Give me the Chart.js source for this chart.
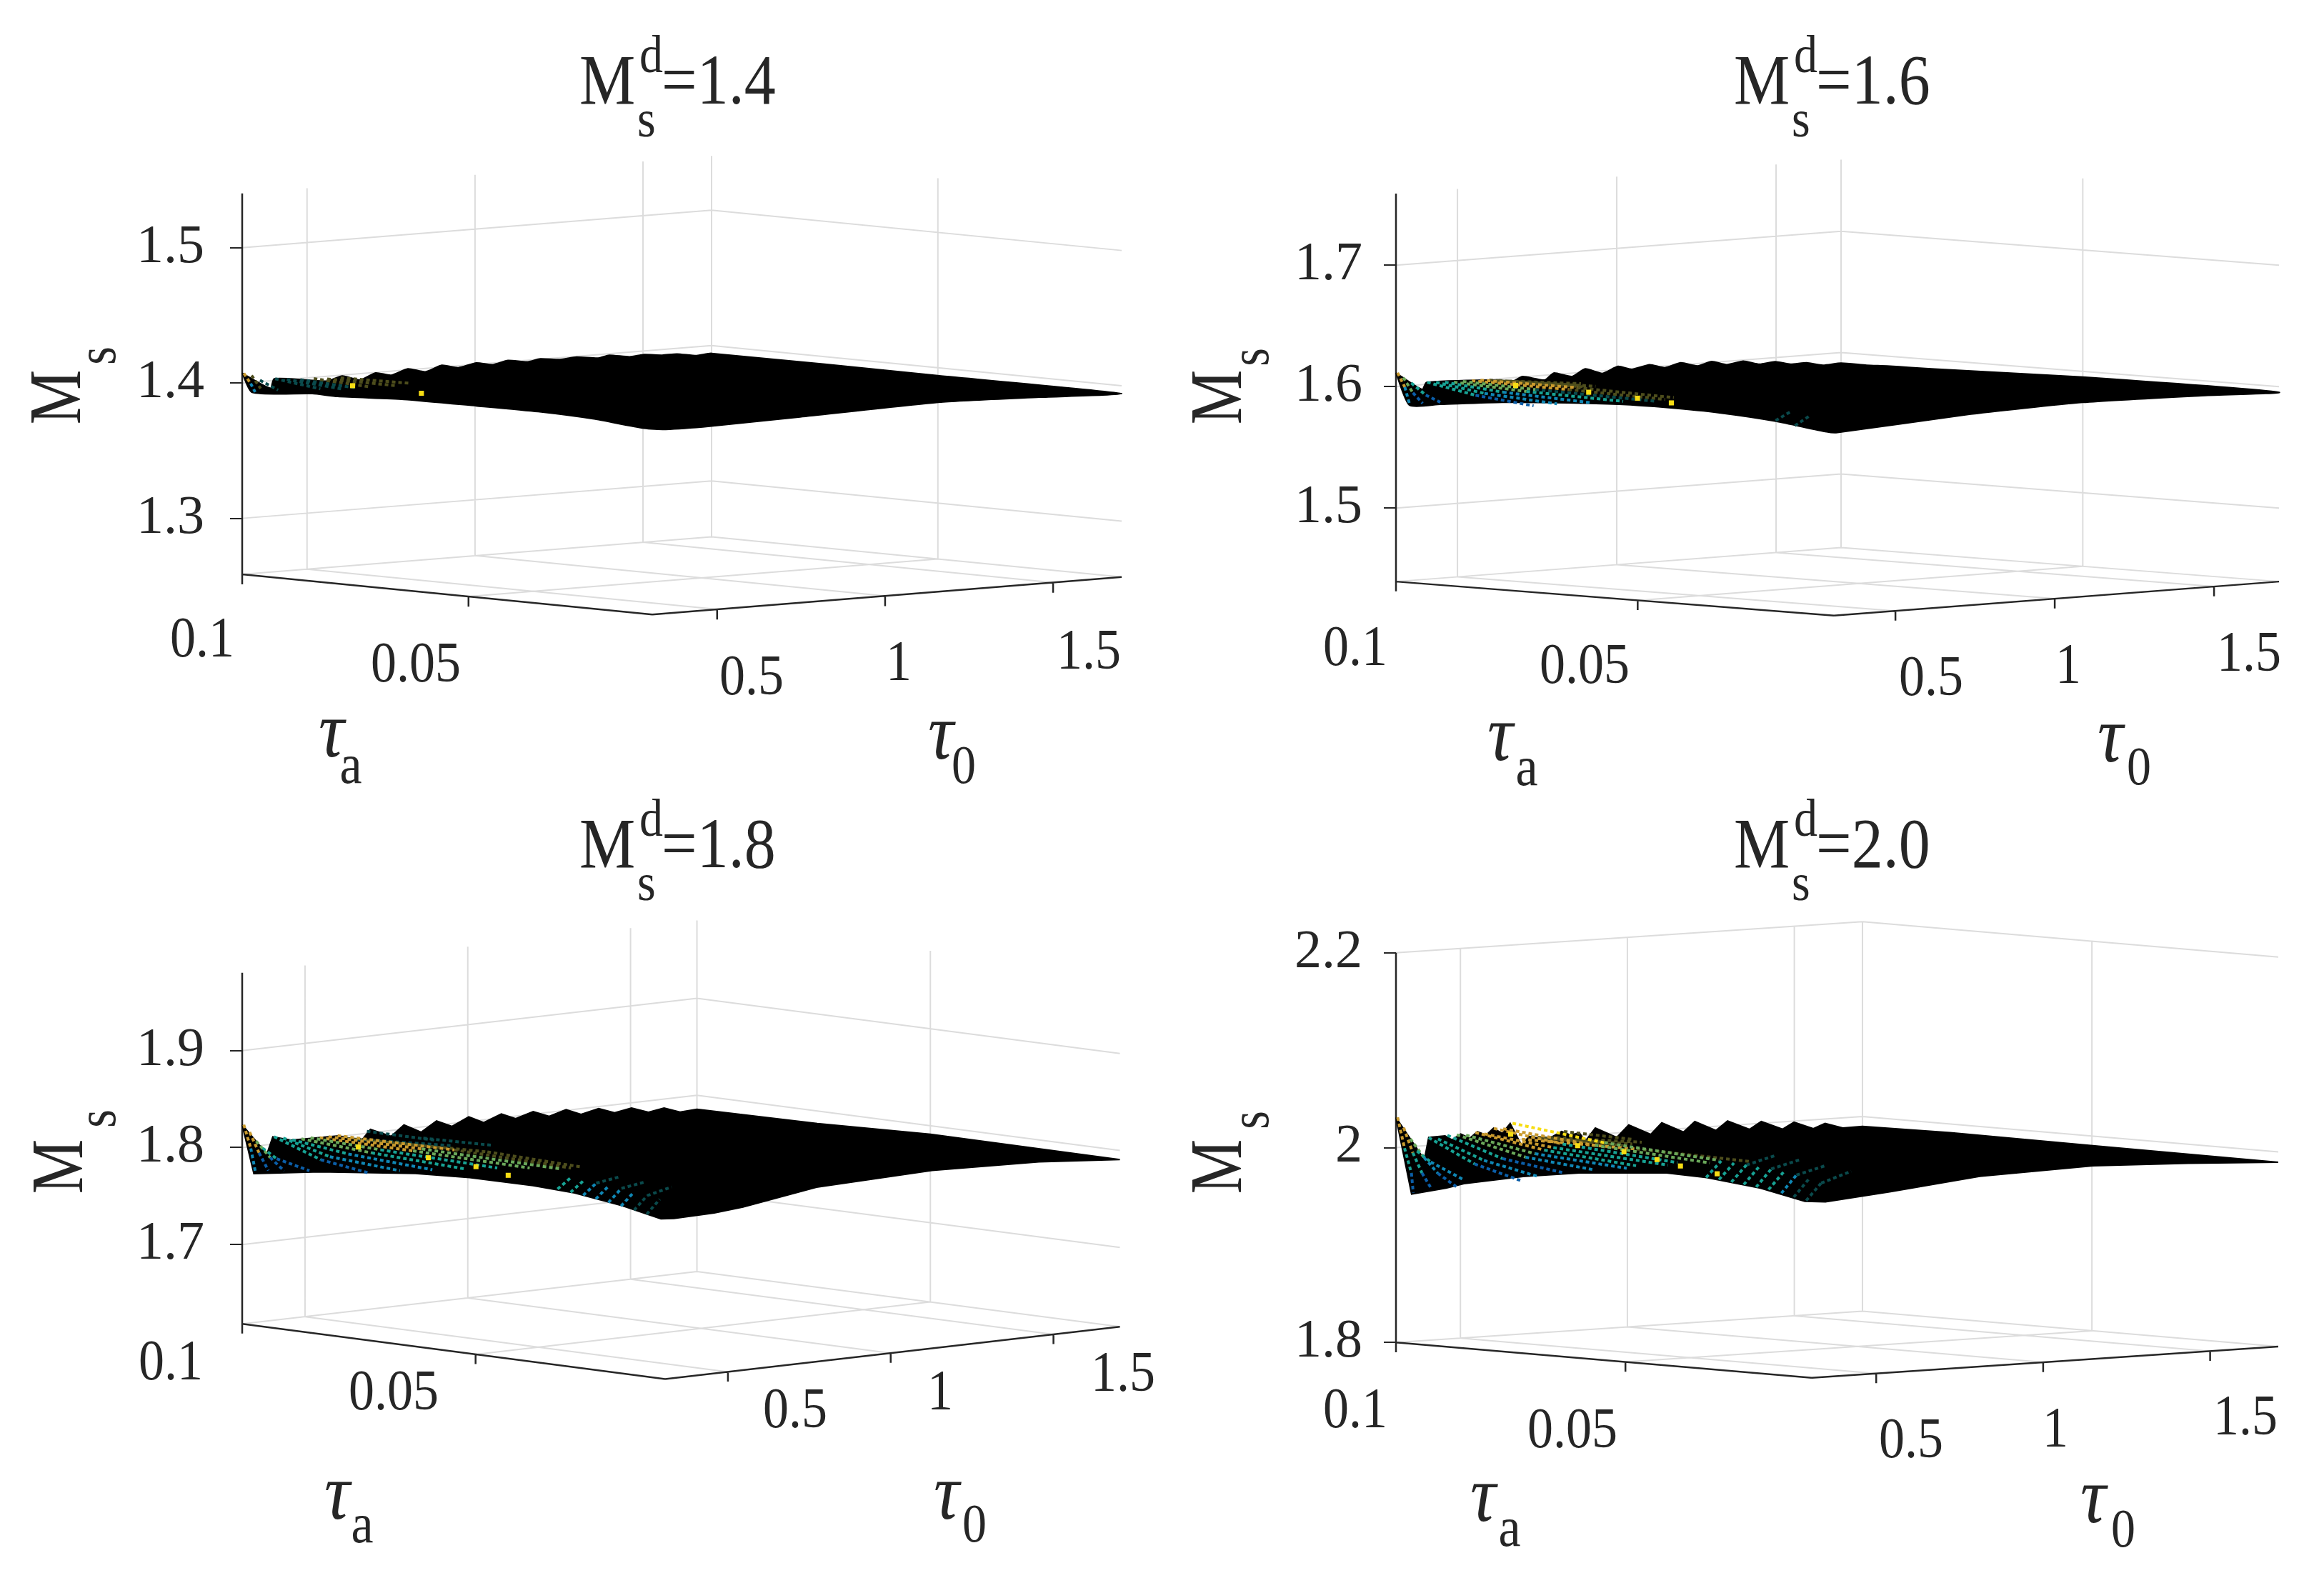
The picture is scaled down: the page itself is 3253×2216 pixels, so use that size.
<!DOCTYPE html>
<html><head><meta charset="utf-8">
<script src="https://cdn.jsdelivr.net/npm/chart.js@4/dist/chart.umd.js"></script>
<style>html,body{margin:0;padding:0;background:#fff;width:3253px;height:2216px;overflow:hidden}canvas{position:absolute;display:block}</style>
</head><body>
<script>
// axis ranges of the 3-D box
const taHi=0.1, taLo=0.0094, t0Lo=0.307, t0Hi=1.704;
const tauATicks=[0.1,0.05], tau0Ticks=[0.5,1,1.5];
const palette=['#0b5ea8','#0f87b5','#17a294','#6aa85a','#c99a2e','#f7dd14','#0a4a4c','#4d4d1c'];

// surface rim: [tau0,Ms] along tau_a=0.1
const top14=[[.307,1.4073],[.391,1.3945],[.402,1.4012],[.5,1.3984],[.56,1.3964],[.605,1.3993],[.657,1.3953],[.704,1.3996],[.75,1.397],[.8,1.4007],[.852,1.3975],[.901,1.4013],[.95,1.3986],[1.004,1.401],[1.053,1.3988],[1.098,1.401],[1.155,1.3988],[1.194,1.4003],[1.253,1.3986],[1.302,1.3995],[1.367,1.3974],[1.399,1.3989],[1.46,1.3965],[1.503,1.3973],[1.557,1.3958],[1.601,1.3958],[1.66,1.3934],[1.704,1.3942]];
const top16=[[.307,1.6113],[.389,1.596],[.403,1.6016],[.607,1.5994],[.674,1.5971],[.704,1.6004],[.774,1.5961],[.802,1.6013],[.859,1.5973],[.901,1.6027],[.955,1.5979],[1.004,1.6027],[1.047,1.5994],[1.103,1.6021],[1.151,1.5987],[1.201,1.6017],[1.253,1.5981],[1.298,1.6008],[1.345,1.5973],[1.397,1.5992],[1.448,1.5956],[1.497,1.5967],[1.545,1.5937],[1.596,1.5938],[1.647,1.5908],[1.704,1.5914]];
const top18=[[.307,1.8234],[.383,1.7905],[.401,1.8075],[.457,1.802],[.603,1.8007],[.672,1.7927],[.701,1.8037],[.765,1.794],[.804,1.8042],[.857,1.7947],[.904,1.8045],[.951,1.797],[1.003,1.8049],[1.049,1.7971],[1.103,1.804],[1.147,1.7974],[1.201,1.8026],[1.25,1.7958],[1.302,1.8007],[1.348,1.7941],[1.402,1.798],[1.451,1.7918],[1.503,1.7947],[1.555,1.7882],[1.603,1.7907],[1.652,1.7847],[1.704,1.7856]];
const top20=[[.307,2.031],[.392,1.9857],[.405,2.0082],[.454,2.0088],[.475,2.0041],[.501,2.0096],[.528,2.0046],[.551,2.0109],[.577,2.0067],[.599,2.0134],[.625,2.0073],[.649,2.0171],[.684,1.9932],[.705,2.0025],[.758,1.9977],[.803,2.0052],[.83,2.0009],[.856,2.0027],[.874,1.9937],[.904,2.0065],[.968,1.9953],[1.004,2.0073],[1.07,1.9961],[1.103,2.0073],[1.168,1.9963],[1.202,2.0064],[1.265,1.9957],[1.3,2.0047],[1.366,1.9946],[1.401,2.0018],[1.465,1.9924],[1.499,1.9989],[1.557,1.9908],[1.592,1.9955],[1.645,1.9895],[1.704,1.9898]];
// rim along tau0=max: [tau_a,Ms]
const back14=[[.05,1.3942],[.0094,1.3942]];
const back16=[[.0947,1.5913],[.0905,1.592],[.0855,1.5922],[.0772,1.5928],[.05,1.5953],[.0094,1.5953]];
const back18=[[.0742,1.787],[.05,1.7913],[.0094,1.7905]];
const back20=[[.0809,1.991],[.0498,1.9901],[.0094,1.9893]];
// rim along tau_a=min, tau0 falling: [tau0,Ms]
const front14=[[1.46,1.3964],[1.166,1.3986],[.747,1.396],[.478,1.3944],[.347,1.3947]];
const front16=[[1.46,1.5974],[1.088,1.5993],[.72,1.5964],[.318,1.5899]];
const front18=[[1.455,1.7977],[1.127,1.8016],[.772,1.798],[.546,1.7864],[.458,1.7837],[.334,1.7827]];
const front20=[[1.434,1.9943],[1.149,1.9984],[.81,1.9953],[.543,1.9857],[.348,1.9796]];
// rim along tau0=min, tau_a rising: [tau_a,Ms]
const side14=[[.0112,1.3958],[.0225,1.399],[.0346,1.4003],[.0483,1.4001],[.0643,1.3996],[.0789,1.397],[.0845,1.3972],[.0978,1.3938]];
const side16=[[.0109,1.5902],[.0214,1.5957],[.0328,1.599],[.044,1.6],[.0539,1.5996],[.0644,1.5976],[.078,1.5938],[.0908,1.5882],[.0972,1.5855]];
const side18=[[.0103,1.7828],[.0185,1.7911],[.0288,1.798],[.0377,1.7998],[.0513,1.7997],[.0629,1.7966],[.0834,1.7854],[.0975,1.7747]];
const side20=[[.0109,1.9806],[.0206,1.9902],[.0323,1.9964],[.0414,1.9976],[.06,1.99],[.0723,1.9815],[.0852,1.9689],[.0891,1.9627],[.0966,1.9537]];

// visible coloured mesh rows: [tau0, taFrom, taTo, MsFrom, MsTo, colour]
const rows14=[[.312,.1,.0985,1.407,1.4,4],[.312,.0985,.0975,1.4,1.394,1],[.335,.1,.098,1.405,1.396,7],[.36,.1,.096,1.401,1.395,6],[.405,.1,.09,1.4012,1.397,6],[.44,.1,.088,1.4,1.397,6],[.48,.1,.088,1.399,1.397,6],[.52,.1,.088,1.399,1.397,7],[.56,.1,.085,1.398,1.398,7],[.6,.1,.085,1.398,1.399,7]];
const rows16=[[.312,.1,.0985,1.6113,1.6,4],[.312,.0985,.0975,1.6,1.586,1],[.33,.1,.098,1.607,1.595,3],[.33,.098,.096,1.595,1.587,0],[.355,.1,.097,1.602,1.593,2],[.355,.097,.094,1.593,1.588,0],[.405,.1,.09,1.6016,1.594,2],[.405,.09,.078,1.594,1.589,0],[.433,.1,.09,1.601,1.595,2],[.433,.09,.075,1.595,1.591,1],[.461,.1,.088,1.6005,1.596,2],[.461,.088,.07,1.596,1.593,1],[.489,.1,.085,1.6,1.597,3],[.489,.085,.065,1.597,1.595,2],[.517,.1,.085,1.6,1.598,3],[.517,.085,.06,1.598,1.596,6],[.545,.1,.08,1.6,1.599,4],[.545,.08,.06,1.599,1.597,7],[.572,.1,.08,1.6,1.6,4],[.572,.08,.06,1.6,1.598,7],[.6,.1,.08,1.5995,1.6,7],[.63,.1,.08,1.5985,1.6,7],[.66,.1,.085,1.5975,1.6,7]];
const rows18=[[.312,.1,.0985,1.8234,1.8,4],[.312,.0985,.0975,1.8,1.776,1],[.33,.1,.098,1.815,1.795,4],[.33,.098,.096,1.795,1.778,0],[.35,.1,.097,1.805,1.79,3],[.35,.097,.094,1.79,1.778,0],[.37,.1,.097,1.797,1.788,2],[.37,.097,.09,1.788,1.78,0],[.405,.1,.09,1.8075,1.79,2],[.405,.09,.08,1.79,1.783,0],[.433,.1,.09,1.805,1.792,2],[.433,.09,.075,1.792,1.787,1],[.461,.1,.088,1.802,1.795,2],[.461,.088,.07,1.795,1.79,1],[.489,.1,.085,1.802,1.797,3],[.489,.085,.065,1.797,1.793,2],[.517,.1,.085,1.802,1.799,3],[.517,.085,.06,1.799,1.796,2],[.545,.1,.08,1.801,1.8,4],[.545,.08,.055,1.8,1.798,3],[.572,.1,.08,1.801,1.801,4],[.572,.08,.05,1.801,1.799,3],[.6,.1,.075,1.801,1.802,4],[.6,.075,.05,1.802,1.799,7],[.63,.1,.07,1.797,1.802,7],[.63,.07,.05,1.802,1.799,7],[.66,.1,.08,1.795,1.801,6],[.69,.1,.085,1.802,1.802,6],[.72,.09,.075,1.8,1.802,6]];
const rows20=[[.312,.1,.0985,2.031,2,4],[.312,.0985,.097,2,1.975,2],[.312,.097,.0966,1.975,1.955,0],[.33,.1,.098,2.02,1.995,4],[.33,.098,.096,1.995,1.975,2],[.33,.096,.094,1.975,1.96,0],[.35,.1,.097,2.008,1.99,3],[.35,.097,.094,1.99,1.975,1],[.35,.094,.09,1.975,1.963,0],[.37,.1,.097,1.995,1.985,2],[.37,.097,.09,1.985,1.97,1],[.405,.1,.09,2.008,1.985,2],[.405,.09,.08,1.985,1.972,0],[.433,.1,.09,2.006,1.988,2],[.433,.09,.078,1.988,1.976,1],[.461,.1,.088,2.009,1.99,2],[.461,.088,.075,1.99,1.981,0],[.489,.1,.085,2.009,1.992,3],[.489,.085,.07,1.992,1.985,1],[.517,.1,.085,2.008,1.995,3],[.517,.085,.065,1.995,1.988,1],[.545,.1,.085,2.01,1.998,4],[.545,.085,.065,1.998,1.99,2],[.572,.1,.085,2.008,2,4],[.572,.085,.06,2,1.992,2],[.6,.1,.085,2.013,2.003,4],[.6,.085,.06,2.003,1.994,2],[.628,.1,.08,2.012,2.003,4],[.628,.08,.055,2.003,1.995,3],[.656,.1,.08,2.017,2.005,5],[.656,.08,.055,2.005,1.997,3],[.684,.1,.075,2,2,4],[.684,.075,.05,2,1.997,7],[.712,.1,.08,2.002,2.001,7],[.74,.1,.08,2,2.002,7],[.768,.1,.08,2,2.003,7],[.81,.1,.085,2.005,2.003,7]];
// fan near the front corner: [tau_a, t0From, t0To, MsFrom, MsTo, colour]
const fan14=[];
const fan16=[[.022,.315,.36,1.596,1.602,6],[.018,.315,.36,1.593,1.6,6]];
const fan18=[[.033,.315,.355,1.799,1.809,2],[.0302,.315,.355,1.7975,1.808,2],[.0275,.315,.355,1.796,1.807,1],[.0248,.315,.355,1.794,1.806,1],[.0221,.315,.355,1.792,1.805,1],[.0194,.315,.355,1.79,1.803,1],[.0166,.315,.355,1.7875,1.801,6],[.0139,.315,.355,1.785,1.799,6],[.0275,.355,.43,1.807,1.811,6],[.0221,.355,.43,1.805,1.809,6],[.0166,.355,.43,1.801,1.807,6]];
const fan20=[[.033,.315,.36,1.996,2.012,2],[.0302,.315,.36,1.995,2.011,2],[.0275,.315,.36,1.9935,2.01,2],[.0248,.315,.36,1.992,2.009,2],[.0221,.315,.36,1.9905,2.008,2],[.0194,.315,.36,1.989,2.006,2],[.0166,.315,.36,1.9865,2.004,1],[.0139,.315,.36,1.9835,2.001,6],[.0112,.315,.36,1.981,1.998,6],[.0275,.36,.45,2.01,2.018,6],[.0221,.36,.45,2.008,2.016,6],[.0166,.36,.45,2.004,2.012,6],[.0112,.36,.45,1.998,2.008,6]];
// bright mesh peaks: [tau_a, tau0, Ms]
const hot14=[[.0857,.443,1.4],[.0705,.443,1.3994]];
const hot16=[[.0842,.443,1.6031],[.0691,.443,1.6022],[.059,.443,1.6004],[.052,.443,1.5987]];
const hot18=[[.0846,.443,1.805],[.0696,.443,1.8034],[.0594,.443,1.8006],[.0525,.443,1.796]];
const hot20=[[.0852,.447,2.0165],[.0706,.447,2.0106],[.0605,.447,2.0083],[.0533,.447,2.0032],[.0482,.447,1.9987],[.0402,.447,1.9939]];

const panels=[
 {name:'1.4',msTicks:[1.3,1.4,1.5],top:top14,back:back14,front:front14,side:side14,rows:rows14,fan:fan14,hot:hot14,curve:.2,
  box:{left:0,top:0,w:1630,h:1106,axis:339,right:60,pad:36},az:.4663,bz:.5337,sa:.0298,sb:-.0277,zMin:1.2587,zMax:1.54,yMin:1.1019,yMax:1.6803,tick:.0075,
  title:[811,145],yl:[85,556,140,498],ta:[[283,898],[582,933]],t0:[[1052,951],[1258,931],[1524,915]],tl:[464,1030,491,1075,1317,1033,1349,1076]},
 {name:'1.6',msTicks:[1.5,1.6,1.7],top:top16,back:back16,front:front16,side:side16,rows:rows16,fan:fan16,hot:hot16,curve:.2,
  box:{left:1630,top:0,w:1623,h:1106,axis:324,right:67,pad:30},az:.4976,bz:.5057,sa:.028,sb:-.028,zMin:1.4394,zMax:1.759,yMin:1.2706,yMax:1.9155,tick:.008,
  title:[2427,145],yl:[1710,556,1754,500],ta:[[1897,910],[2218,935]],t0:[[2703,952],[2895,935],[3148,918]],tl:[2100,1035,2137,1078,2954,1037,2994,1078]},
 {name:'1.8',msTicks:[1.7,1.8,1.9],top:top18,back:back18,front:front18,side:side18,rows:rows18,fan:fan18,hot:hot18,curve:0,
  box:{left:0,top:1106,w:1630,h:1110,axis:339,right:60,pad:36},az:.4809,bz:.5171,sa:.0569,sb:-.054,zMin:1.6182,zMax:1.9803,yMin:1.3547,yMax:2.165,tick:.01,
  title:[811,1214],yl:[88,1633,140,1566],ta:[[239,1910],[551,1952]],t0:[[1113,1977],[1316,1952],[1572,1926]],tl:[472,2097,507,2138,1325,2097,1364,2138]},
 {name:'2.0',msTicks:[1.8,2,2.2],top:top20,back:back20,front:front20,side:side20,rows:rows20,fan:fan20,hot:hot20,curve:0,
  box:{left:1630,top:1106,w:1623,h:1110,axis:324,right:67,pad:30},az:.4724,bz:.53,sa:.0363,sb:-.032,zMin:1.8,zMax:2.2,yMin:1.5567,yMax:2.3634,tick:.01,
  title:[2427,1214],yl:[1710,1633,1754,1568],ta:[[1897,1977],[2201,2005]],t0:[[2675,2019],[2877,2004],[3143,1987]],tl:[2076,2100,2113,2143,2930,2102,2972,2145]}
];

const SERIF='"Liberation Serif","Times New Roman",serif';
const INK='#262626', GRID='#dcdcdc';
const gap={x:null,y:null};
const STRETCH=1.12;

function project(p,ta,t0,z){
  const a=(taHi-ta)/(taHi-taLo), b=(t0-t0Lo)/(t0Hi-t0Lo);
  return {x:a*p.az+b*p.bz, y:z-a*p.sa-b*p.sb};
}
function lines(p,segs){
  const out=[];
  segs.forEach(s=>{out.push(project(p,s[0],s[1],s[2]),project(p,s[3],s[4],s[5]),gap);});
  return out;
}
function gridSegments(p){
  const s=[];
  p.msTicks.forEach(z=>{s.push([taHi,t0Lo,z,taHi,t0Hi,z],[taHi,t0Hi,z,taLo,t0Hi,z]);});
  s.push([taHi,t0Hi,p.zMin,taHi,t0Hi,p.zMax]);
  s.push([taHi,t0Lo,p.zMin,taHi,t0Hi,p.zMin],[taHi,t0Hi,p.zMin,taLo,t0Hi,p.zMin]);
  tau0Ticks.forEach(t=>{s.push([taHi,t,p.zMin,taHi,t,p.zMax],[taHi,t,p.zMin,taLo,t,p.zMin]);});
  tauATicks.filter(t=>t<taHi).forEach(t=>{s.push([t,t0Hi,p.zMin,t,t0Hi,p.zMax],[t,t0Hi,p.zMin,t,t0Lo,p.zMin]);});
  return s;
}
function axisSegments(p){
  const s=[[taHi,t0Lo,p.zMin,taHi,t0Lo,p.zMax],[taHi,t0Lo,p.zMin,taLo,t0Lo,p.zMin],[taLo,t0Lo,p.zMin,taLo,t0Hi,p.zMin]];
  tauATicks.forEach(t=>s.push([t,t0Lo,p.zMin,t,t0Lo,p.zMin-p.tick]));
  tau0Ticks.forEach(t=>s.push([taLo,t,p.zMin,taLo,t,p.zMin-p.tick]));
  return s;
}
function outline(p){
  const pts=[];
  p.top.forEach(v=>pts.push(project(p,taHi,v[0],v[1])));
  p.back.forEach(v=>pts.push(project(p,v[0],t0Hi,v[1])));
  p.front.forEach(v=>pts.push(project(p,taLo,v[0],v[1])));
  p.side.forEach(v=>pts.push(project(p,v[0],t0Lo,v[1])));
  pts.push(pts[0]);
  return pts;
}
function meshSets(p){
  return palette.map((c,i)=>{
    const segs=[];
    p.rows.filter(r=>r[5]===i).forEach(r=>segs.push([r[1],r[0],r[3],r[2],r[0],r[4]]));
    p.fan.filter(r=>r[5]===i).forEach(r=>segs.push([r[0],r[1],r[3],r[0],r[2],r[4]]));
    return {data:lines(p,segs),showLine:true,pointRadius:0,borderColor:c,borderWidth:4,borderDash:[5,4],spanGaps:false,clip:false,order:2};
  });
}

const textPlugin={id:'panelText',afterDraw(chart,args,opts){
  const p=opts.panel, c=chart.ctx, ox=p.box.left, oy=p.box.top;
  const put=(t,x,y,size,style,align,base)=>{
    c.save();
    c.translate(x-ox,y-oy); c.scale(1,STRETCH);
    c.font=(style?style+' ':'')+size+'px '+SERIF; c.fillStyle=INK; c.textAlign=align||'center'; c.textBaseline=base||'middle';
    c.fillText(t,0,0);
    c.restore();
  };
  c.save();
  const [tx,ty]=p.title;
  put('M',tx,ty,88,'','left','alphabetic');
  put('d',tx+84,ty-44,66,'','left','alphabetic');
  put('s',tx+81,ty+46,66,'','left','alphabetic');
  put('='+p.name,tx+115,ty,88,'','left','alphabetic');
  tauATicks.forEach((v,i)=>put(String(v),p.ta[i][0],p.ta[i][1],72));
  tau0Ticks.forEach((v,i)=>put(String(v),p.t0[i][0],p.t0[i][1],72));
  const l=p.tl;
  put('τ',l[0],l[1],100,'italic'); put('a',l[2],l[3],70);
  put('τ',l[4],l[5],100,'italic'); put('0',l[6],l[7],68);
  const rot=(t,x,y,size)=>{c.save();c.translate(x-ox,y-oy);c.rotate(-Math.PI/2);c.scale(1,1.2);c.font=size+'px '+SERIF;c.fillStyle=INK;c.textAlign='center';c.textBaseline='middle';c.fillText(t,0,0);c.restore();};
  rot('M',p.yl[0],p.yl[1],86); rot('s',p.yl[2],p.yl[3],66);
  c.restore();
}};

panels.forEach(p=>{
  const cv=document.createElement('canvas');
  cv.width=p.box.w; cv.height=p.box.h;
  cv.style.left=p.box.left+'px'; cv.style.top=p.box.top+'px';
  cv.style.width=p.box.w+'px'; cv.style.height=p.box.h+'px';
  document.body.appendChild(cv);
  const datasets=[
    {data:lines(p,gridSegments(p)),showLine:true,pointRadius:0,borderColor:GRID,borderWidth:2,spanGaps:false,clip:false,order:6},
    {data:lines(p,axisSegments(p)),showLine:true,pointRadius:0,borderColor:INK,borderWidth:2.5,spanGaps:false,clip:false,order:5},
    {data:outline(p),showLine:true,pointRadius:0,borderColor:'#000',backgroundColor:'#000',borderWidth:2,tension:p.curve,fill:'shape',clip:false,order:4},
    ...meshSets(p),
    {data:p.hot.map(h=>project(p,h[0],h[1],h[2])),showLine:false,pointStyle:'rect',pointRadius:5,borderWidth:0,backgroundColor:palette[5],clip:false,order:1}
  ];
  new Chart(cv,{type:'scatter',data:{datasets},
    options:{responsive:false,devicePixelRatio:1,animation:false,
      layout:{padding:{left:0,right:p.box.right,top:0,bottom:0}},
      plugins:{legend:{display:false},tooltip:{enabled:false},title:{display:false},panelText:{panel:p}},
      scales:{
        x:{type:'linear',min:0,max:1,display:false},
        y:{type:'linear',min:p.yMin,max:p.yMax,position:'left',
           afterFit(s){s.width=p.box.axis;s.paddingTop=0;s.paddingBottom=0;},
           afterBuildTicks(s){s.ticks=p.msTicks.map(v=>({value:v}));},
           border:{display:false},
           grid:{drawOnChartArea:false,drawTicks:true,tickLength:17,color:INK,lineWidth:2},
           ticks:{color:INK,autoSkip:false,padding:p.box.pad,font:{family:SERIF,size:76},callback:v=>String(v)}}
      }},
    plugins:[textPlugin]});
});
</script>
</body></html>
